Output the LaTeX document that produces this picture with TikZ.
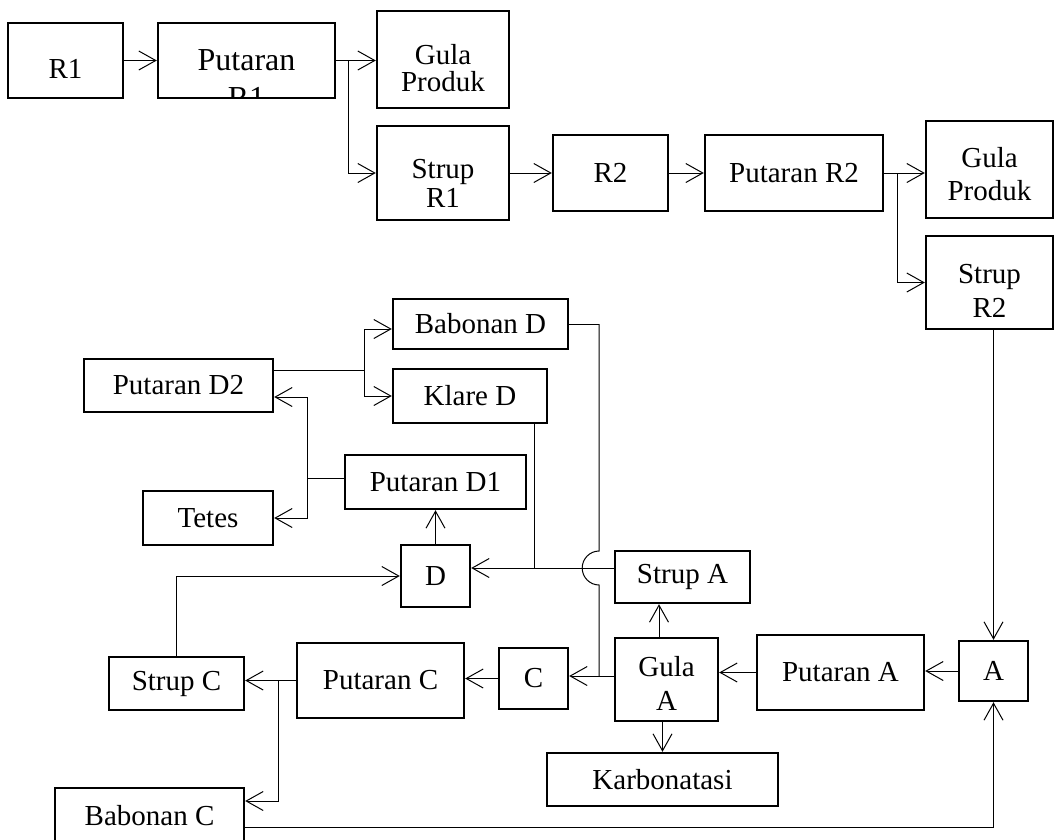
\documentclass[tikz,border=0pt]{standalone}
\usepackage{fontspec}
\setmainfont{Liberation Serif}
\usetikzlibrary{arrows.meta}
\newcommand{\teks}{\fontsize{29}{26}\selectfont}
% dua baris: teks atas, teks bawah, tinggi baris atas, jarak baris
\newcommand{\dua}[4]{\rule{0pt}{#3pt}#1\\[\dimexpr#4pt-26pt\relax]#2}
\tikzset{
  blok/.style={draw, line width=2.4pt, inner sep=0pt, align=center, font=\teks},
  panah/.style={-{Straight Barb[length=17pt,width=19pt]}, line width=1pt},
  garis/.style={line width=1pt}
}
\begin{document}
\begin{tikzpicture}[x=1pt,y=1pt]
	 \useasboundingbox (0,0) rectangle (1056,-839);

	 % baris atas
	 \node[blok, minimum width=115, minimum height=75] (r1) at (65.5,-60.5) {\raisebox{-8pt}[\height][\depth]{R1}};
	 \node[blok, minimum width=177, minimum height=75,
	   path picture={
	     \node[anchor=base, font=\fontsize{32}{38}\selectfont] at ([yshift=-9.5pt]path picture bounding box.center) {Putaran};
	     \node[anchor=base, font=\fontsize{32}{38}\selectfont] at ([yshift=-48pt]path picture bounding box.center) {R1};
	   }] (putr1) at (246.5,-60.5) {};
	 \node[blok, minimum width=132, minimum height=97] (gula1) at (443,-59.5) {\dua{Gula}{Produk}{38}{27}};
	 \node[blok, minimum width=132, minimum height=94] (strupr1) at (443,-173) {\dua{Strup}{R1}{39}{29}};
	 \node[blok, minimum width=115, minimum height=76] (r2) at (610.5,-173) {R2};
	 \node[blok, minimum width=178, minimum height=76] (putr2) at (794,-173) {Putaran R2};
	 \node[blok, minimum width=127, minimum height=97] (gula2) at (989.5,-169.5) {\dua{Gula}{Produk}{30}{33}};
	 \node[blok, minimum width=127, minimum height=93] (strupr2) at (989.5,-282.5) {\dua{Strup}{R2}{36}{34}};

	 % bagian D
	 \node[blok, minimum width=175, minimum height=50] (babd) at (480.5,-324) {Babonan D};
	 \node[blok, minimum width=189, minimum height=53] (putd2) at (178.5,-385.5) {Putaran D2};
	 \node[blok, minimum width=154, minimum height=54] (klared) at (470,-396) {Klare D};
	 \node[blok, minimum width=181, minimum height=54] (putd1) at (435.5,-482) {Putaran D1};
	 \node[blok, minimum width=130, minimum height=54] (tetes) at (208,-518) {Tetes};
	 \node[blok, minimum width=69, minimum height=62] (d) at (435.5,-576) {D};

	 % bagian A dan C
	 \node[blok, minimum width=135, minimum height=52] (strupa) at (682.5,-577) {Strup A};
	 \node[blok, minimum width=103, minimum height=83] (guala) at (666.5,-679.5) {\dua{Gula}{A}{28}{34}};
	 \node[blok, minimum width=69, minimum height=61] (c) at (533.5,-678.5) {C};
	 \node[blok, minimum width=167, minimum height=75] (putc) at (380.5,-680.5) {Putaran C};
	 \node[blok, minimum width=135, minimum height=53] (strupc) at (176.5,-683.5) {Strup C};
	 \node[blok, minimum width=189, minimum height=55] (babc) at (149.5,-815.5) {Babonan C};
	 \node[blok, minimum width=231, minimum height=53] (karbo) at (662.5,-779.5) {Karbonatasi};
	 \node[blok, minimum width=167, minimum height=75] (puta) at (840.5,-672.5) {Putaran A};
	 \node[blok, minimum width=69, minimum height=60] (a) at (993.5,-671) {A};

	 % aliran atas
	 \draw[panah] (r1) -- (putr1);
	 \draw[panah] (putr1.east) -- (putr1.east -| gula1.west);
	 \coordinate (cab1) at ([xshift=12pt]putr1.east);
	 \draw[panah] (cab1) |- (strupr1.west);
	 \draw[panah] (strupr1) -- (r2);
	 \draw[panah] (r2) -- (putr2);
	 \draw[panah] (putr2.east) -- (putr2.east -| gula2.west);
	 \coordinate (cab2) at ([xshift=13pt]putr2.east);
	 \draw[panah] (cab2) |- (strupr2.west);
	 \draw[panah] (a.north |- strupr2.south) -- (a.north);

	 % aliran A
	 \draw[panah] (a.west) -- (a.west -| puta.east);
	 \draw[panah] (puta.west) -- (puta.west -| guala.east);
	 \draw[panah] (karbo.north |- guala.south) -- (karbo.north);
	 \draw[panah] ([xshift=-7.5pt]guala.north) -- ([xshift=-7.5pt]guala.north |- strupa.south);
	 \coordinate (gc) at ([yshift=3.5pt]guala.west);
	 \draw[panah] (gc) -- (gc -| c.east);

	 % aliran C
	 \draw[panah] (c.west) -- (c.west -| putc.east);
	 \draw[panah] (putc.west) -- (putc.west -| strupc.east);
	 \coordinate (cab3) at ([xshift=-17pt]putc.west);
	 \draw[panah] (cab3) |- ([yshift=14.5pt]babc.east);
	 \draw[panah] (strupc.north) |- (d.west);
	 \draw[panah] ([yshift=-11.5pt]babc.east) -| (a.south);

	 % aliran D
	 \draw[panah] (d) -- (putd1);
	 \draw[garis] ([yshift=4pt]putd1.west) -- ++(-36,0) coordinate (cab4);
	 \draw[panah] (cab4) |- ([yshift=-11.5pt]putd2.east);
	 \draw[panah] (cab4) |- (tetes.east);
	 \draw[garis] ([yshift=15.5pt]putd2.east) -- ++(90,0) coordinate (cab5);
	 \draw[panah] (cab5) |- ([yshift=-5pt]babd.west);
	 \draw[panah] (cab5) |- (klared.west);
	 \coordinate (sa) at ([yshift=9pt]strupa.west);
	 \draw[panah] (sa) -- (sa -| d.east);
	 \coordinate (kd) at ([xshift=64pt]klared.south);
	 \draw[garis] (kd) -- (kd |- sa);
	 \draw[garis] (babd.east) -- ++(30,0) coordinate (cab6);
	 \coordinate (hop) at (cab6 |- sa);
	 \draw[garis] (cab6) -- ([yshift=17pt]hop) arc[start angle=90, end angle=270, radius=17pt] -- (hop |- gc);
	\end{tikzpicture}
\end{document}
